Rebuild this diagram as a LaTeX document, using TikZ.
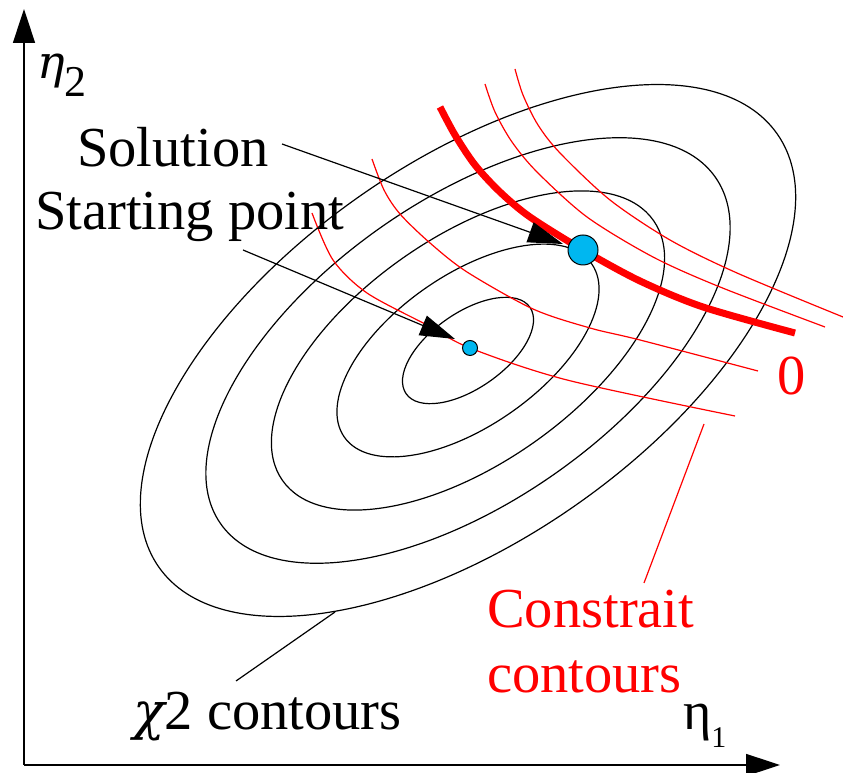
\documentclass[tikz,border=0pt]{standalone}
\usepackage{fontspec}
\setmainfont{Liberation Serif}
\newfontfamily\greekserif{DejaVu Serif}
\usetikzlibrary{arrows.meta}
\definecolor{dotblue}{RGB}{0,183,240}
\definecolor{cred}{RGB}{255,0,0}
\begin{document}
\begin{tikzpicture}[x=1pt,y=1pt,
  contour/.style={line width=1.2pt},
  rcontour/.style={cred, line width=1.2pt},
  rthick/.style={cred, line width=7pt},
  pointer/.style={line width=1.2pt, -{Triangle[length=35pt,width=21pt]}},
  axisline/.style={line width=1.5pt, -{Triangle[length=34pt,width=22pt]}},
  lbl/.style={inner sep=0pt, anchor=base west, font=\fontsize{56.5}{64}\selectfont},
  dot/.style={circle, draw=black, line width=1pt, fill=dotblue, inner sep=0pt}]

\fill[white] (0,0) rectangle (843,773);
\useasboundingbox (0,0) rectangle (843,773);

% axes
\coordinate (origin) at (24,8);
\coordinate (ytip) at (24,764);
\coordinate (xtip) at (780,8);
\draw[axisline] (origin) -- (ytip);
\draw[axisline] (origin) -- (xtip);

% chi2 contours
\coordinate (c) at (468,422.5);
\foreach \k in {1,...,5}
  \draw[contour, rotate around={35:(c)}] (c) ellipse [x radius=75.5*\k, y radius=37.7*\k];

% constraint contours (image y converted: 773 - y)
\draw[rcontour] plot[smooth] coordinates {(312,560) (333,513) (367,480) (427,448) (470,425) (567,393) (735,357)};
\draw[rcontour] plot[smooth] coordinates {(372,614) (384,583) (400,559) (430,530) (467,501) (533,464) (590,445) (640,433) (758,402)};
\draw[rcontour] plot[smooth] coordinates {(485,689) (495,661) (512,631) (537,601) (587,556) (653,516) (720,486) (825,446)};
\draw[rcontour] plot[smooth] coordinates {(515,704) (523,678) (538,648) (560,620) (610,573) (670,533) (737,500) (843,456)};
\draw[rthick] plot[smooth] coordinates {(440,666) (455,638) (475,608) (500,581) (530,556) (583,523) (640,492) (703,466) (795,440)};

% points
\node[dot, minimum size=30pt] (sol) at (583,523) {};
\node[dot, minimum size=15pt] (start) at (470,425) {};

% labels
\node[lbl] (tsol) at (77,606) {Solution};
\node[lbl] (tstart) at (35,543) {Starting point};
\node[lbl, text=cred] (tzero) at (777,378) {0};
\node[lbl, text=cred] (tcon1) at (487,145) {Constrait};
\node[lbl, text=cred] (tcon2) at (487,80) {contours};
\node[lbl] (tchi) at (133,43) {{\greekserif\itshape\fontsize{52}{60}\selectfont χ}2 contours};
\node[inner sep=0pt, anchor=base west] (teta2) at (37,694)
  {{\greekserif\itshape\fontsize{46}{50}\selectfont η}{\fontsize{44}{44}\selectfont\raisebox{-18pt}{2}}};
\node[inner sep=0pt, anchor=base west] (teta1) at (683,43)
  {{\fontsize{54}{54}\selectfont η}{\fontsize{30}{30}\selectfont\raisebox{-18pt}{1}}};

% pointers
\coordinate (solfrom) at (282,629);
\coordinate (soltip) at (563,529);
\draw[pointer] (solfrom) -- (soltip);
\coordinate (stfrom) at (243,523);
\coordinate (sttip) at (455,434);
\draw[pointer] (stfrom) -- (sttip);
\coordinate (conA) at (704,349);
\coordinate (conB) at (644,190);
\draw[rcontour] (conA) -- (conB);
\coordinate (chiA) at (335,161);
\coordinate (chiB) at (236,92);
\draw[contour] (chiA) -- (chiB);
\end{tikzpicture}
\end{document}
